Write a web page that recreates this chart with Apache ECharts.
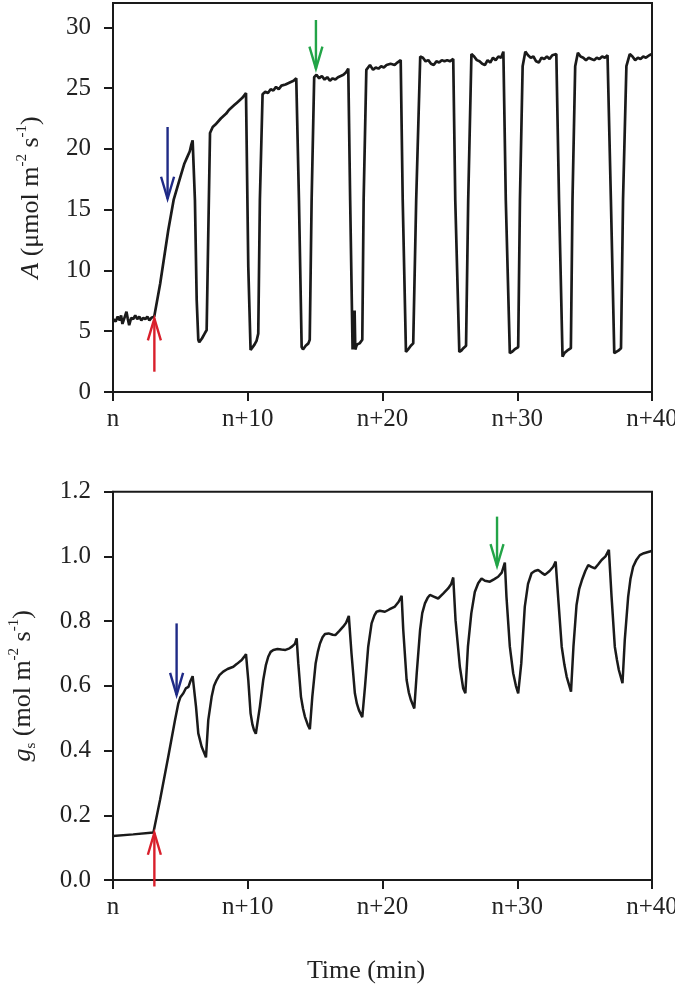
<!DOCTYPE html>
<html>
<head>
<meta charset="utf-8">
<script src="https://cdn.jsdelivr.net/npm/echarts@6/dist/echarts.min.js"></script>
<style>
html,body{margin:0;padding:0;background:#fff;}
#c{width:675px;height:986px;}
</style>
</head>
<body>
<div id="c"></div>
<script>
// ---------- DATA ----------
const xTickValues = [0, 10, 20, 30, 40];
const xTickLabels = ['n', 'n+10', 'n+20', 'n+30', 'n+40'];
const yTicksA = [0, 5, 10, 15, 20, 25, 30];
const yTicksG = [0, 0.2, 0.4, 0.6, 0.8, 1.0, 1.2];

// Net assimilation A (µmol m-2 s-1) vs time (min)
const timeA = [
  0, 0.2, 0.35, 0.5, 0.6, 0.7, 0.85, 1.0, 1.1, 1.2, 1.35, 1.5, 1.65, 1.8, 1.95, 2.1, 2.25, 2.4, 2.55, 2.7, 2.85, 3.06,
  3.5, 4.1, 4.5, 5.0, 5.3, 5.5, 5.7, 5.8, 5.91,
  6.08, 6.21, 6.33, 6.4, 6.6, 6.8, 6.95,
  7.07, 7.2, 7.4, 7.6, 8.0, 8.2, 8.4, 8.6, 8.8, 9.0, 9.2, 9.4, 9.6, 9.87,
  10.04, 10.21, 10.35, 10.5, 10.65, 10.78,
  10.9, 11.1, 11.3, 11.5, 11.7, 11.9, 12.1, 12.3, 12.5, 12.8, 13.0, 13.2, 13.4, 13.6, 13.7,
  13.8, 14.0, 14.1, 14.3, 14.5, 14.6,
  14.74, 14.93, 15.1, 15.3, 15.5, 15.7, 15.9, 16.1, 16.3, 16.5, 16.7, 16.9, 17.1, 17.3, 17.46,
  17.6, 17.78, 17.88, 17.93, 17.98, 18.1, 18.3, 18.5,
  18.6, 18.8, 19.07, 19.3, 19.5, 19.7, 19.9, 20.1, 20.3, 20.6, 20.9, 21.1, 21.35,
  21.5, 21.74, 21.9, 22.1, 22.28,
  22.5, 22.8, 23.0, 23.2, 23.4, 23.6, 23.8, 24.0, 24.2, 24.4, 24.6, 24.8, 25.0, 25.25,
  25.4, 25.7, 25.85, 26.0, 26.2,
  26.36, 26.6, 26.8, 27.0, 27.2, 27.4, 27.6, 27.8, 28.0, 28.2, 28.4, 28.6, 28.8, 28.97,
  29.15, 29.45, 29.6, 29.8, 30.07,
  30.2, 30.4, 30.6, 30.8, 31.0, 31.2, 31.4, 31.6, 31.8, 32.0, 32.2, 32.4, 32.6, 32.9,
  33.1, 33.36, 33.5, 33.7, 33.98,
  34.1, 34.3, 34.5, 34.7, 34.9, 35.1, 35.3, 35.5, 35.7, 35.9, 36.1, 36.3, 36.5, 36.7,
  36.95, 37.2, 37.35, 37.5, 37.7,
  37.85, 38.1, 38.35, 38.55, 38.75, 38.95, 39.15, 39.35, 39.55, 39.8, 40
];
const valA = [
  6.0, 5.8, 6.2, 5.9, 6.3, 5.6, 6.1, 6.6, 6.0, 5.5, 6.1, 6.0, 6.3, 6.0, 6.2, 5.9, 6.1, 6.0, 6.2, 5.9, 6.1, 6.2,
  8.9, 13.3, 15.8, 17.7, 18.8, 19.3, 19.8, 20.3, 20.7,
  15.8, 7.6, 4.3, 4.1, 4.4, 4.8, 5.1,
  13.0, 21.3, 21.8, 22.0, 22.5, 22.7, 22.9, 23.2, 23.4, 23.6, 23.8, 24.0, 24.2, 24.6,
  10.3, 3.45, 3.5, 3.9, 4.2, 4.8,
  15.8, 24.5, 24.7, 24.6, 24.9, 24.8, 25.1, 24.9, 25.2, 25.3, 25.4, 25.5, 25.6, 25.8, 25.9,
  15.8, 3.7, 3.5, 3.8, 4.0, 4.3,
  15.8, 25.9, 26.1, 25.8, 26.0, 25.7, 25.9, 25.6, 25.8, 25.7, 25.9, 26.0, 26.1, 26.3, 26.6,
  15.8, 3.5, 3.4, 6.7, 3.5, 3.9, 4.0, 4.3,
  15.8, 26.5, 26.9, 26.5, 26.7, 26.6, 26.8, 26.7, 26.9, 27.0, 26.9, 27.1, 27.3,
  15.8, 3.3, 3.5, 3.8, 4.0,
  15.8, 27.6, 27.5, 27.2, 27.3, 27.0, 26.9, 27.2, 27.1, 27.3, 27.2, 27.3, 27.2, 27.4,
  15.8, 3.3, 3.4, 3.6, 3.8,
  15.8, 27.8, 27.6, 27.3, 27.2, 27.0, 26.9, 27.3, 27.1, 27.5, 27.3, 27.6, 27.5, 28.0,
  15.8, 3.2, 3.3, 3.5, 3.7,
  15.8, 26.8, 28.0, 27.7, 27.5, 27.6, 27.2, 27.1, 27.5, 27.4, 27.6, 27.4, 27.7, 27.8,
  15.8, 2.9, 3.2, 3.4, 3.6,
  15.8, 26.8, 27.9, 27.6, 27.5, 27.3, 27.5, 27.4, 27.3, 27.5, 27.4, 27.6, 27.5, 27.7,
  15.8, 3.2, 3.3, 3.4, 3.6,
  15.8, 26.8, 27.8, 27.6, 27.3, 27.5, 27.4, 27.6, 27.5, 27.7, 27.8
];

// Stomatal conductance gs (mol m-2 s-1) vs time (min)
const timeG = [
  0, 1.5, 3.0,
  3.49, 4.1, 4.6, 4.85, 5.0, 5.22, 5.4, 5.6, 5.75, 5.91,
  6.16, 6.33, 6.58, 6.75, 6.9,
  7.07, 7.32, 7.5, 7.69, 7.9, 8.18, 8.5, 8.93, 9.2, 9.55, 9.7, 9.87,
  10.04, 10.21, 10.35, 10.46, 10.6, 10.73,
  10.9, 11.15, 11.35, 11.52, 11.7, 11.9, 12.2, 12.5, 12.8, 13.1, 13.3, 13.5, 13.63,
  13.75, 13.95, 14.1, 14.24, 14.45, 14.61,
  14.79, 15.04, 15.2, 15.36, 15.55, 15.73, 16.0, 16.3, 16.5, 16.8, 17.08, 17.3, 17.5,
  17.7, 17.95, 18.1, 18.25, 18.5,
  18.7, 18.94, 19.19, 19.4, 19.56, 19.8, 20.18, 20.5, 20.92, 21.2, 21.42,
  21.54, 21.79, 21.95, 22.11, 22.36,
  22.54, 22.79, 22.95, 23.15, 23.35, 23.52, 23.8, 24.13, 24.5, 24.87, 25.1, 25.25,
  25.42, 25.74, 25.99, 26.15,
  26.34, 26.59, 26.85, 27.1, 27.35, 27.6, 27.97, 28.3, 28.58, 28.85, 29.08,
  29.2, 29.45, 29.7, 29.9, 30.07,
  30.3, 30.56, 30.8, 31.06, 31.3, 31.55, 31.8, 32.05, 32.4, 32.67, 32.85,
  33.05, 33.3, 33.5, 33.67, 33.99,
  34.17, 34.4, 34.6, 34.8, 35.05, 35.27, 35.5, 35.76, 36.0, 36.26, 36.55, 36.8,
  37.0, 37.24, 37.4, 37.54, 37.81,
  37.98, 38.23, 38.4, 38.6, 38.85, 39.1, 39.4, 39.84, 40
];
const valG = [
  0.136, 0.141, 0.147,
  0.247, 0.381, 0.494, 0.546, 0.565, 0.577, 0.592, 0.597, 0.615, 0.630,
  0.536, 0.453, 0.412, 0.395, 0.379,
  0.494, 0.566, 0.600, 0.618, 0.633, 0.644, 0.652, 0.659, 0.668, 0.680, 0.688, 0.698,
  0.618, 0.515, 0.480, 0.464, 0.452, 0.448,
  0.536, 0.618, 0.665, 0.690, 0.705, 0.711, 0.714, 0.712, 0.711, 0.716, 0.722, 0.730, 0.747,
  0.670, 0.566, 0.530, 0.505, 0.480, 0.466,
  0.566, 0.670, 0.705, 0.731, 0.750, 0.760, 0.762, 0.758, 0.757, 0.770, 0.783, 0.795, 0.816,
  0.700, 0.577, 0.545, 0.525, 0.503,
  0.597, 0.721, 0.793, 0.818, 0.829, 0.832, 0.829, 0.836, 0.845, 0.860, 0.878,
  0.773, 0.618, 0.580, 0.556, 0.530,
  0.639, 0.773, 0.825, 0.855, 0.872, 0.881, 0.876, 0.870, 0.885, 0.901, 0.915, 0.935,
  0.803, 0.659, 0.592, 0.577,
  0.721, 0.824, 0.890, 0.917, 0.932, 0.925, 0.922, 0.930, 0.937, 0.950, 0.981,
  0.875, 0.721, 0.639, 0.600, 0.577,
  0.670, 0.845, 0.915, 0.948, 0.955, 0.958, 0.950, 0.943, 0.955, 0.968, 0.984,
  0.865, 0.721, 0.665, 0.628, 0.582,
  0.721, 0.850, 0.900, 0.927, 0.955, 0.973, 0.968, 0.963, 0.975, 0.989, 1.000, 1.020,
  0.875, 0.721, 0.680, 0.649, 0.608,
  0.742, 0.875, 0.930, 0.968, 0.990, 1.004, 1.010, 1.015, 1.018
];

// Arrows: time position, tail value, tip value
const arrowTimeA = [3.07, 4.05, 15.06];
const arrowTailA = [1.67, 21.8, 30.6];
const arrowTipA  = [6.05, 15.9, 26.6];
const arrowTimeG = [3.07, 4.72, 28.5];
const arrowTailG = [-0.02, 0.793, 1.123];
const arrowTipG  = [0.146, 0.572, 0.970];

// ---------- STYLE ----------
const arrowColors = ['#d91f2b', '#1f2a86', '#22a447'];
const FONT = 'Liberation Serif';
const INK = '#1a1a1a';

const zip = (xs, ys) => xs.map((x, i) => [x, ys[i]]);
const zip3 = (xs, a, b) => xs.map((x, i) => [x, a[i], b[i]]);

function arrowRender(params, api) {
  const p1 = api.coord([api.value(0), api.value(1)]);
  const p2 = api.coord([api.value(0), api.value(2)]);
  const dir = p2[1] > p1[1] ? 1 : -1;
  const col = arrowColors[params.dataIndex];
  const hw = 6.5, hl = 22;
  return {
    type: 'group',
    children: [
      { type: 'line', shape: { x1: p1[0], y1: p1[1], x2: p2[0], y2: p2[1] },
        style: { stroke: col, lineWidth: 2.4 } },
      { type: 'polyline',
        shape: { points: [[p2[0] - hw, p2[1] - dir * hl], [p2[0], p2[1]], [p2[0] + hw, p2[1] - dir * hl]] },
        style: { stroke: col, lineWidth: 2.4, fill: null } }
    ]
  };
}

const axisLine = { show: true, lineStyle: { color: INK, width: 2 } };
const axisTick = { show: true, inside: false, length: 9, lineStyle: { color: INK, width: 2 } };
const labelStyle = { fontFamily: FONT, fontSize: 25, color: '#222' };

function xAxisFor(gridIndex) {
  return {
    type: 'value', gridIndex, min: 0, max: 40, interval: 10,
    axisLine, axisTick, splitLine: { show: false },
    axisLabel: Object.assign({}, labelStyle, {
      margin: 15,
      formatter: v => xTickLabels[xTickValues.indexOf(v)] ?? ''
    })
  };
}

function nameStyle() {
  return {
    fontFamily: FONT, fontSize: 26, color: '#222', lineHeight: 32,
    rich: {
      i: { fontFamily: FONT, fontSize: 26, fontStyle: 'italic', color: '#222', lineHeight: 32 },
      sub: { fontFamily: FONT, fontSize: 15, color: '#222', verticalAlign: 'bottom', lineHeight: 15 },
      sup: { fontFamily: FONT, fontSize: 15, color: '#222', verticalAlign: 'top', lineHeight: 15 }
    }
  };
}

const chart = echarts.init(document.getElementById('c'), null, { renderer: 'canvas' });
chart.setOption({
  backgroundColor: '#fff',
  animation: false,
  grid: [
    { left: 113, right: 23, top: 3, height: 389, show: true, borderColor: INK, borderWidth: 2,
      backgroundColor: 'transparent', containLabel: false, outerBoundsMode: 'none' },
    { left: 113, right: 23, top: 491.7, height: 388.3, show: true, borderColor: INK, borderWidth: 2,
      backgroundColor: 'transparent', containLabel: false, outerBoundsMode: 'none' }
  ],
  xAxis: [xAxisFor(0), xAxisFor(1)],
  yAxis: [
    {
      type: 'value', gridIndex: 0, min: 0, max: 32,
      axisLine, splitLine: { show: false },
      axisTick: Object.assign({}, axisTick, { customValues: yTicksA }),
      axisLabel: Object.assign({}, labelStyle, { margin: 22, customValues: yTicksA }),
      name: '{i|A} (μmol m{sup|-2} s{sup|-1})',
      nameLocation: 'middle', nameGap: 66, nameRotate: 90,
      nameTextStyle: nameStyle()
    },
    {
      type: 'value', gridIndex: 1, min: 0, max: 1.2, interval: 0.2,
      axisLine, splitLine: { show: false }, axisTick,
      axisLabel: Object.assign({}, labelStyle, { margin: 22, formatter: v => v.toFixed(1) }),
      name: '{i|g}{sub|s} (mol m{sup|-2} s{sup|-1})',
      nameLocation: 'middle', nameGap: 74, nameRotate: 90,
      nameTextStyle: nameStyle()
    }
  ],
  graphic: [
    { type: 'text', x: 366, y: 971,
      style: { text: 'Time (min)', font: '26px "Liberation Serif"', fill: '#222', align: 'center', verticalAlign: 'middle' } }
  ],
  series: [
    { type: 'line', xAxisIndex: 0, yAxisIndex: 0, data: zip(timeA, valA), showSymbol: false, symbol: 'none',
      lineStyle: { color: INK, width: 2.7 }, z: 3 },
    { type: 'line', xAxisIndex: 1, yAxisIndex: 1, data: zip(timeG, valG), showSymbol: false, symbol: 'none',
      lineStyle: { color: INK, width: 2.5 }, z: 3 },
    { type: 'custom', xAxisIndex: 0, yAxisIndex: 0, clip: false, renderItem: arrowRender,
      data: zip3(arrowTimeA, arrowTailA, arrowTipA), z: 5 },
    { type: 'custom', xAxisIndex: 1, yAxisIndex: 1, clip: false, renderItem: arrowRender,
      data: zip3(arrowTimeG, arrowTailG, arrowTipG), z: 5 }
  ]
});
</script>
</body>
</html>
